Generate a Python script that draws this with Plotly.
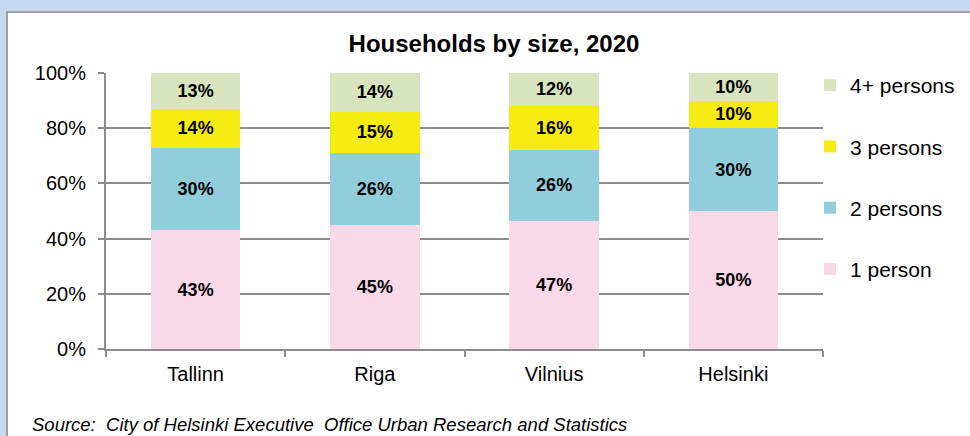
import plotly.graph_objects as go

# Share of households by size, per city (%)
cities = ["Tallinn", "Riga", "Vilnius", "Helsinki"]
one_person = [43, 45, 47, 50]
two_persons = [30, 26, 26, 30]
three_persons = [14, 15, 16, 10]
four_plus = [13, 14, 12, 10]

series = [
    ("1 person", one_person, "#f9d9e8"),
    ("2 persons", two_persons, "#92cddc"),
    ("3 persons", three_persons, "#f6ec13"),
    ("4+ persons", four_plus, "#d7e4bd"),
]

W, H = 970, 436
L, R, T, B = 106, 147, 73, 87
pw, ph = W - L - R, H - T - B
FONT = "Liberation Sans, Arial, sans-serif"


def px_x(x):
    return (x - L) / pw


def px_y(y):
    return (H - B - y) / ph


fig = go.Figure()
for i, (name, vals, color) in enumerate(series):
    fig.add_trace(go.Bar(
        x=cities, y=vals, name=name, legendgroup=name,
        legendrank=len(series) - i,
        marker=dict(color=color, line=dict(width=0)),
        text=[f"{v}%" for v in vals],
        textposition="inside", insidetextanchor="middle", textangle=0,
        constraintext="none",
        insidetextfont=dict(family=FONT, size=18, color="#000000", weight="bold"),
        hoverinfo="skip",
    ))

axis_font = dict(family=FONT, size=20, color="#000000")

fig.update_layout(
    width=W, height=H,
    margin=dict(l=L, r=R, t=T, b=B, pad=0, autoexpand=False),
    barmode="stack", barnorm="percent", bargap=0.5,
    paper_bgcolor="#c6d9f0", plot_bgcolor="rgba(0,0,0,0)",
    font=axis_font,
    title=dict(text="<b>Households by size, 2020</b>",
               font=dict(family=FONT, size=24, color="#000000"),
               x=494 / W, xref="container", xanchor="center",
               y=1 - 44 / H, yref="container", yanchor="middle"),
    xaxis=dict(showline=True, linecolor="#8c8c8c", linewidth=2,
               ticks="outside", tickson="boundaries", ticklen=6, tickwidth=2,
               tickcolor="#8c8c8c", showgrid=False, tickfont=axis_font,
               ticklabelstandoff=6),
    yaxis=dict(range=[0, 100], dtick=20, ticksuffix="%",
               showline=True, linecolor="#8c8c8c", linewidth=2,
               ticks="outside", ticklen=6, tickwidth=2, tickcolor="#8c8c8c",
               showgrid=True, gridcolor="#8c8c8c", gridwidth=2,
               zeroline=False, tickfont=axis_font, ticklabelstandoff=8),
    legend=dict(x=px_x(810), xanchor="left", y=px_y(65), yanchor="top",
                traceorder="grouped", tracegroupgap=31, maxheight=1,
                font=dict(family=FONT, size=21, color="#000000"),
                bgcolor="rgba(0,0,0,0)"),
    showlegend=True,
    shapes=[dict(type="rect", xref="paper", yref="paper", layer="below",
                 x0=px_x(7), x1=px_x(W + 10), y0=px_y(H + 10), y1=px_y(12),
                 fillcolor="#ffffff", line=dict(color="#a0a0a0", width=2))],
    annotations=[dict(text="<i>Source:\u00a0 City of Helsinki Executive\u00a0 Office Urban Research and Statistics</i>",
                      xref="paper", yref="paper", x=px_x(30), y=px_y(424),
                      xanchor="left", yanchor="middle", showarrow=False,
                      font=dict(family=FONT, size=18.5, color="#000000"))],
)

fig.write_html("out.html")
